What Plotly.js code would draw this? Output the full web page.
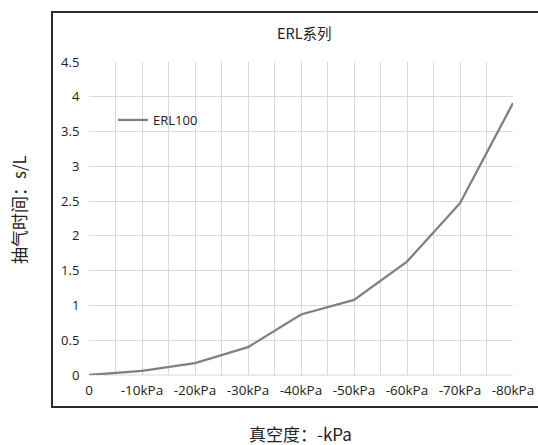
<!DOCTYPE html>
<html>
<head>
<meta charset="utf-8">
<script src="https://cdn.plot.ly/plotly-3.0.1.min.js"></script>
<style>
  html, body { margin: 0; padding: 0; background: #ffffff; }
  #chart { width: 538px; height: 445px; }
</style>
</head>
<body>
<div id="chart"></div>
<script>
// Data
const vacuum = [0, -10, -20, -30, -40, -50, -60, -70, -80];
const tickLabels = ["0", "-10kPa", "-20kPa", "-30kPa", "-40kPa", "-50kPa", "-60kPa", "-70kPa", "-80kPa"];
const erl100 = [0, 0.06, 0.17, 0.40, 0.87, 1.08, 1.63, 2.47, 3.91];
const seriesName = "ERL100";
const chartTitle = "ERL系列";
const xTitle = "真空度：-kPa";
const yTitle = "抽气时间：s/L";
const topTitle = "不同真空度（-kPa）的抽气时间(s/L)";

const FONT = "'Noto Sans CJK SC', 'Noto Sans', sans-serif";
const TICKFONT = "'Open Sans', 'Noto Sans CJK SC', sans-serif";
const W = 538, H = 445;
const L = 89, R = 513, T = 62, B = 375;
const pw = R - L, ph = B - T;
const px = v => (v - L) / pw;
const py = v => (B - v) / ph;

const trace = {
  x: vacuum,
  y: erl100,
  type: 'scatter',
  mode: 'lines',
  name: seriesName,
  line: { color: '#808080', width: 2.3 },
  showlegend: true
};

const layout = {
  width: W, height: H,
  margin: { l: L, r: W - R, t: T, b: H - B, pad: 0 },
  paper_bgcolor: '#ffffff',
  plot_bgcolor: '#ffffff',
  font: { family: FONT, color: '#222222', size: 12 },
  showlegend: true,
  legend: {
    x: px(113), y: py(120), xanchor: 'left', yanchor: 'middle',
    bgcolor: 'rgba(0,0,0,0)', borderwidth: 0,
    font: { family: TICKFONT, size: 13, color: '#222222' }
  },
  xaxis: {
    range: [0, -80],
    tickvals: vacuum,
    ticktext: tickLabels,
    showgrid: true, gridcolor: '#d9d9d9', gridwidth: 1,
    minor: { dtick: 5, tick0: 0, showgrid: true, gridcolor: '#d9d9d9', gridwidth: 1 },
    zeroline: false, showline: false,
    ticks: 'outside', ticklen: 3, tickcolor: 'rgba(0,0,0,0)',
    tickfont: { family: TICKFONT, size: 13.5, color: '#222222' },
    fixedrange: true
  },
  yaxis: {
    range: [0, 4.5],
    dtick: 0.5, tick0: 0,
    showgrid: true, gridcolor: '#d9d9d9', gridwidth: 1,
    zeroline: false, showline: false, ticks: 'outside', ticklen: 6, tickcolor: 'rgba(0,0,0,0)',
    tickfont: { family: TICKFONT, size: 13, color: '#222222' },
    fixedrange: true
  },
  shapes: [
    {
      type: 'rect', xref: 'paper', yref: 'paper', layer: 'below',
      x0: px(52), x1: px(545), y0: py(407), y1: py(12),
      line: { color: '#2b2b2b', width: 2 }, fillcolor: 'rgba(0,0,0,0)'
    },
    {
      type: 'line', xref: 'paper', yref: 'paper', layer: 'below',
      x0: px(89), x1: px(513), y0: py(375), y1: py(375),
      line: { color: '#d9d9d9', width: 1 }
    }
  ],
  annotations: [
    {
      text: chartTitle, xref: 'paper', yref: 'paper',
      x: px(304), y: py(32), xanchor: 'center', yanchor: 'middle',
      showarrow: false, font: { family: FONT, size: 14.5, color: '#222222' }
    },
    {
      text: xTitle, xref: 'paper', yref: 'paper',
      x: px(300), y: py(434), xanchor: 'center', yanchor: 'middle',
      showarrow: false, font: { family: FONT, size: 17, color: '#222222' }
    },
    {
      text: yTitle, xref: 'paper', yref: 'paper',
      x: px(18), y: py(210), xanchor: 'center', yanchor: 'middle',
      textangle: -90,
      showarrow: false, font: { family: FONT, size: 17, color: '#222222' }
    },
    {
      text: topTitle, xref: 'paper', yref: 'paper',
      x: px(243), y: py(3), xanchor: 'center', yanchor: 'bottom',
      showarrow: false, font: { family: FONT, size: 17, color: '#222222' }
    }
  ]
};

Plotly.newPlot('chart', [trace], layout, { displayModeBar: false, staticPlot: true });
</script>
</body>
</html>
